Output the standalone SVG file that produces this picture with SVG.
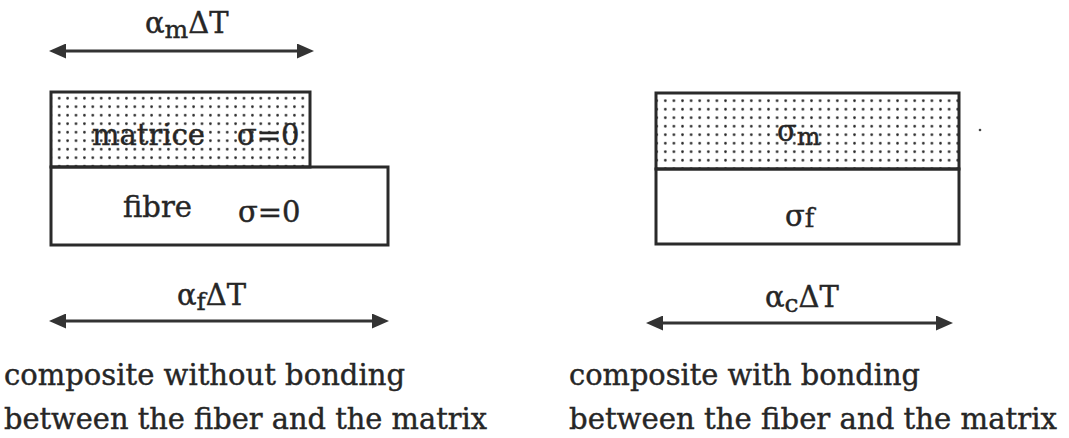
<svg xmlns="http://www.w3.org/2000/svg" width="1069" height="438" viewBox="0 0 1069 438">
  <style>
    .box { fill: none; stroke: #2a2a2a; stroke-width: 3; }
    .arrow { stroke: #333; stroke-width: 3; fill: none; marker-start: url(#head); marker-end: url(#head); }
    .t { font-family: "DejaVu Serif", "Liberation Serif", serif; fill: #262626; stroke: #262626; stroke-width: 0.4; font-size: 29px; }
    .cap { font-family: "DejaVu Serif", "Liberation Serif", serif; fill: #262626; stroke: #262626; stroke-width: 0.4; font-size: 29px; }
  </style>
  <defs>
    <marker id="head" markerUnits="userSpaceOnUse" viewBox="0 0 17 15" markerWidth="17" markerHeight="15" refX="6" refY="7.5" orient="auto-start-reverse">
      <path d="M17,7.5 L0,0 L0,15 z" fill="#333"/>
    </marker>
    <pattern id="dotsL" patternUnits="userSpaceOnUse" x="55" y="94" width="8.4" height="8.5">
      <circle cx="4.2" cy="4.2" r="1.35" fill="#2a2a2a"/>
    </pattern>
    <pattern id="dotsR" patternUnits="userSpaceOnUse" x="661" y="96.5" width="8.6" height="8.5">
      <circle cx="4.3" cy="4.3" r="1.35" fill="#2a2a2a"/>
    </pattern>
  </defs>

  <g id="connectors">
    <line class="arrow" x1="60" y1="51" x2="303" y2="51"/>
    <line class="arrow" x1="60" y1="321" x2="378" y2="321"/>
    <line class="arrow" x1="657" y1="323" x2="942" y2="323"/>
  </g>

  <g id="label-am">
    <text class="t" x="145" y="33" font-size="30">α<tspan font-size="25" dy="5">m</tspan><tspan dy="-5">ΔT</tspan></text>
  </g>
  <g id="label-af">
    <text class="t" x="177" y="305" font-size="30">α<tspan font-size="25" dy="5">f</tspan><tspan dy="-5">ΔT</tspan></text>
  </g>
  <g id="label-ac">
    <text class="t" x="765" y="307" font-size="30">α<tspan font-size="25" dy="5">c</tspan><tspan dy="-5">ΔT</tspan></text>
  </g>

  <g id="matrix-left">
    <rect x="51" y="92" width="259" height="75" fill="url(#dotsL)"/>
    <rect class="box" x="51" y="92" width="259" height="75"/>
    <text class="t" x="92" y="145" textLength="113" lengthAdjust="spacingAndGlyphs">matrice</text>
    <text class="t" x="237" y="145">σ=0</text>
  </g>

  <g id="fibre-left">
    <rect class="box" x="51" y="167" width="337" height="78" fill="#fff"/>
    <text class="t" x="123" y="217" textLength="69" lengthAdjust="spacingAndGlyphs">fibre</text>
    <text class="t" x="238" y="222">σ=0</text>
  </g>

  <g id="matrix-right">
    <rect x="656" y="93" width="303" height="76" fill="url(#dotsR)"/>
    <rect class="box" x="656" y="93" width="303" height="76"/>
    <text class="t" x="777" y="141">σ<tspan font-size="25" dy="4">m</tspan></text>
  </g>

  <g id="fibre-right">
    <rect class="box" x="656" y="169" width="303" height="75"/>
    <text class="t" x="785" y="226">σ<tspan font-size="26" dy="1">f</tspan></text>
  </g>

  <circle cx="980" cy="130" r="1.3" fill="#444"/>

  <g id="caption-left">
    <text class="cap" x="4" y="385" textLength="401" lengthAdjust="spacingAndGlyphs">composite without bonding</text>
    <text class="cap" x="4" y="429" textLength="483" lengthAdjust="spacingAndGlyphs">between the fiber and the matrix</text>
  </g>
  <g id="caption-right">
    <text class="cap" x="569" y="385" textLength="351" lengthAdjust="spacingAndGlyphs">composite with bonding</text>
    <text class="cap" x="569" y="429" textLength="488" lengthAdjust="spacingAndGlyphs">between the fiber and the matrix</text>
  </g>
</svg>
